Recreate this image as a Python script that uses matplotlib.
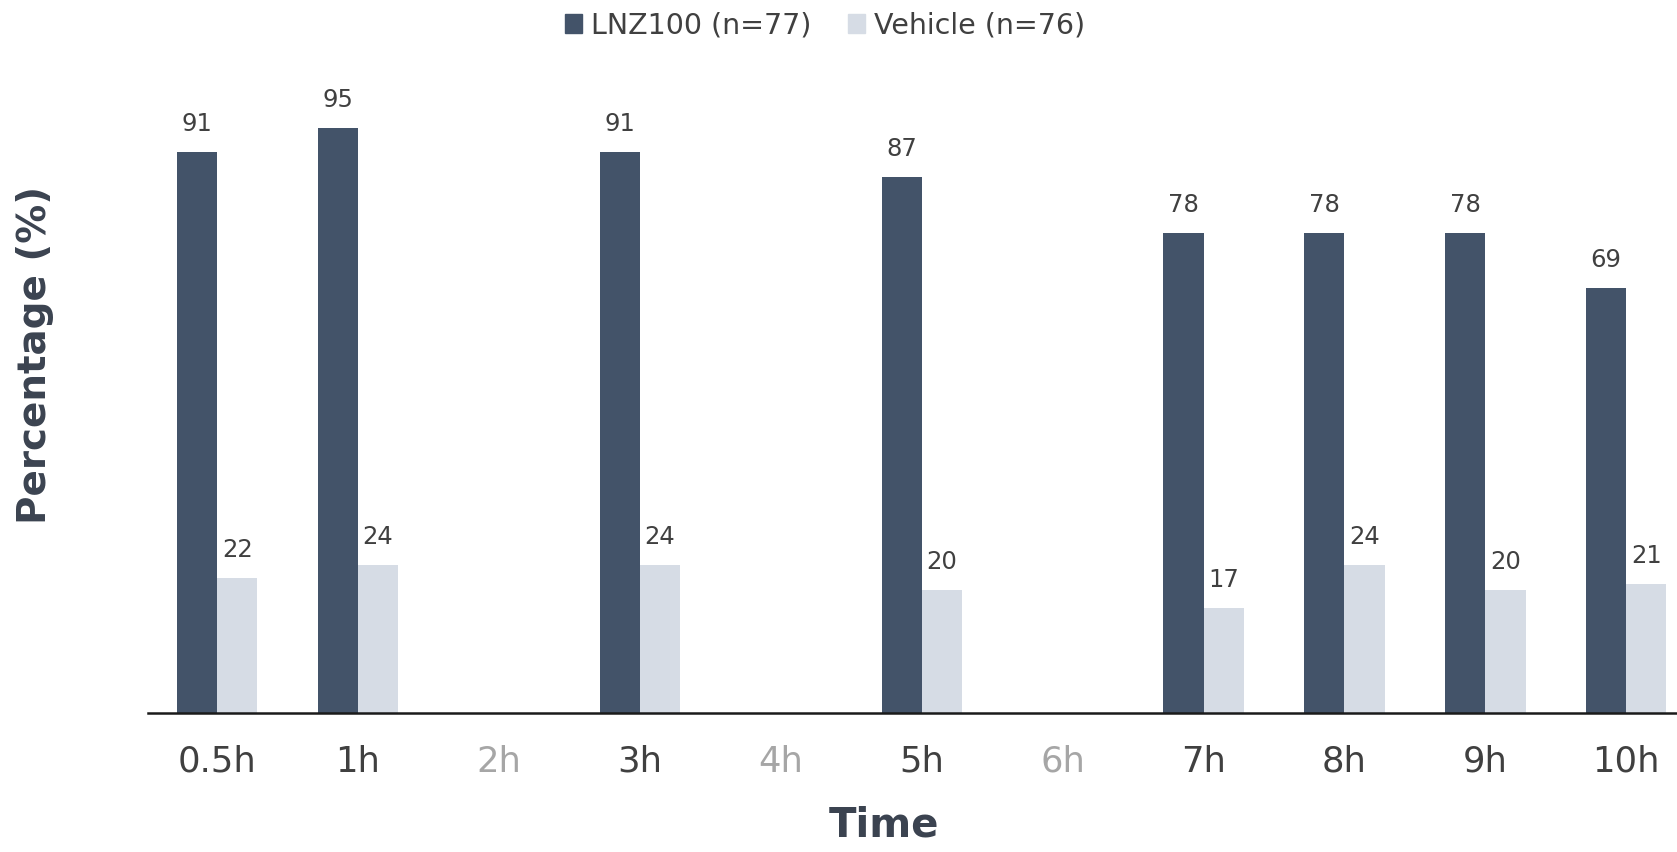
import numpy
import matplotlib
import matplotlib.pyplot as plt

matplotlib.use('Agg')

plt.rcParams['font.family'] = ['DejaVu Sans']

times = ['0.5h', '1h', '2h', '3h', '4h', '5h', '6h', '7h', '8h', '9h', '10h']
lnz100 = [91, 95, None, 91, None, 87, None, 78, 78, 78, 69]
vehicle = [22, 24, None, 24, None, 20, None, 17, 24, 20, 21]
missing = ['2h', '4h', '6h']

dark = '#435369'
light = '#D6DCE5'
text_col = '#404040'
title_col = '#3B4350'

fig = plt.figure(figsize=(16.77, 8.52), dpi=100)
ax = fig.add_axes([0.0883, 0.1631, 0.9117, 0.723])

x = numpy.arange(len(times))
w = 0.285

for i in range(len(times)):
    if lnz100[i] is not None:
        ax.bar(x[i] - w / 2, lnz100[i], w, color=dark)
        ax.text(x[i] - w / 2, lnz100[i] + 2.6, str(lnz100[i]), ha='center', va='bottom',
                fontsize=17.5, color=text_col)
    if vehicle[i] is not None:
        ax.bar(x[i] + w / 2, vehicle[i], w, color=light)
        ax.text(x[i] + w / 2, vehicle[i] + 2.6, str(vehicle[i]), ha='center', va='bottom',
                fontsize=17.5, color=text_col)

ax.set_xlim(-0.49, 10.36)
ax.set_ylim(0, 100)
ax.set_xticks(x)
ax.set_xticklabels(times, fontsize=25.5)
for lbl in ax.get_xticklabels():
    lbl.set_color('#A6A6A6' if lbl.get_text() in missing else text_col)
ax.tick_params(axis='x', length=0, pad=23)
ax.set_yticks([])
for side in ['top', 'right', 'left']:
    ax.spines[side].set_visible(False)
ax.spines['bottom'].set_linewidth(1.8)
ax.spines['bottom'].set_color('#1a1a1a')

fig.text(0.527, 0.008, 'Time', ha='center', va='bottom', fontsize=29,
         fontweight='bold', color=title_col)
fig.text(0.021, 0.583, 'Percentage (%)', ha='center', va='center', rotation=90,
         fontsize=28, fontweight='bold', color=title_col)

handles = [plt.Rectangle((0, 0), 1, 1, color=dark), plt.Rectangle((0, 0), 1, 1, color=light)]
fig.legend(handles, ['LNZ100 (n=77)', 'Vehicle (n=76)'], loc='center', bbox_to_anchor=(0.492, 0.970),
           ncol=2, frameon=False, fontsize=20.5, handlelength=0.6, handleheight=0.6,
           handletextpad=0.3, columnspacing=1.3, labelcolor=text_col)

fig.savefig('out.png', dpi=100)
